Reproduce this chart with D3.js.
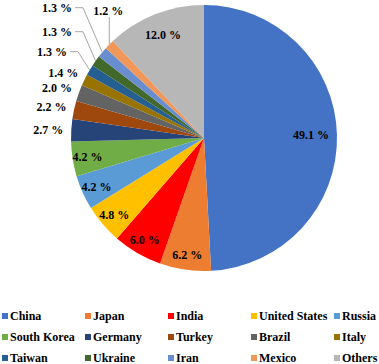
<!DOCTYPE html>
<html><head><meta charset="utf-8">
<script src="https://cdn.jsdelivr.net/npm/d3@7"></script>
<style>body{margin:0;background:#fff}svg{display:block}
text{font-family:"Liberation Serif","Times New Roman",Tinos,"DejaVu Serif",serif;font-weight:bold;font-size:12px;fill:#000}</style>
</head><body>
<svg id="c" width="379" height="364"></svg>
<script>
const categories = ["China","Japan","India","United States","Russia","South Korea","Germany","Turkey","Brazil","Italy","Taiwan","Ukraine","Iran","Mexico","Others"];
const values = [49.1,6.2,6.0,4.8,4.2,4.2,2.7,2.2,2.0,1.4,1.3,1.3,1.3,1.2,12.0];
const colors = ["#4472C4","#ED7D31","#FF0000","#FFC000","#5B9BD5","#70AD47","#264478","#9E480E","#636363","#997300","#255E91","#43682B","#698ED0","#F1975A","#B7B7B7"];

const svg = d3.select("#c");
const cx = 204, cy = 138, R = 133;

const pie = d3.pie().value(d => d.v).sort(null);
const data = categories.map((c,i)=>({name:c,v:values[i],color:colors[i]}));
const arcs = pie(data);
const arc = d3.arc().innerRadius(0).outerRadius(R);
const g = svg.append("g").attr("transform",`translate(${cx},${cy})`);
g.selectAll("path").data(arcs).join("path").attr("d",arc).attr("fill",d=>d.data.color);

const inR = d => d.data.v > 30 ? 107 : (d.data.v > 10 ? 111 : 118);
const outArc = d3.arc().innerRadius(152).outerRadius(152);
const edgeArc = d3.arc().innerRadius(R).outerRadius(R);
const fmt = v => v.toFixed(1) + " %";

const labels = [];
let prevY = null, stack = 0;
const gaps = [21, 20, 24];
arcs.forEach((a)=>{
  if (a.data.v >= 3) {
    const r = inR(a);
    const [x,y] = d3.arc().innerRadius(r).outerRadius(r).centroid(a);
    labels.push({a, x, y, anchor:"middle"});
  } else if (a.data.name === "Mexico") {
    const [ex,ey] = edgeArc.centroid(a);
    labels.push({a, x:ex-1, y:-127, anchor:"middle", leader:[[ex,ey],[ex,-121]]});
  } else {
    let [x,y] = outArc.centroid(a);
    x -= 4; y += 1;
    if (prevY !== null && prevY - y < 14) {
      y = prevY - gaps[Math.min(stack, gaps.length-1)];
      stack++;
      const [ex,ey] = edgeArc.centroid(a);
      const xe = stack === 1 ? -137 : -132;
      labels.push({a, x:xe, y, anchor:"end", leader:[[ex,ey],[xe+11,y],[xe+3,y]]});
    } else {
      labels.push({a, x, y, anchor:"middle"});
    }
    prevY = y;
  }
});

g.selectAll("polyline.l").data(labels.filter(d=>d.leader)).join("polyline")
  .attr("points",d=>d.leader.map(p=>p.join(",")).join(" "))
  .attr("fill","none").attr("stroke","#A6A6A6").attr("stroke-width",1);

g.selectAll("text.lab").data(labels).join("text")
  .attr("x",d=>d.x).attr("y",d=>d.y).attr("dy","0.35em")
  .attr("text-anchor",d=>d.anchor)
  .text(d=>fmt(d.a.data.v));

// legend
const cols = 5, colW = 83, rowH = 21, lx = 2, ly = 316;
const lg = svg.append("g");
data.forEach((d,i)=>{
  const c = i % cols, r = Math.floor(i/cols);
  const x = lx + c*colW, y = ly + r*rowH;
  lg.append("rect").attr("x",x).attr("y",y-3).attr("width",6).attr("height",6).attr("fill",d.color);
  lg.append("text").attr("x",x+8).attr("y",y).attr("dy","0.35em").text(d.name);
});
</script>
</body></html>
